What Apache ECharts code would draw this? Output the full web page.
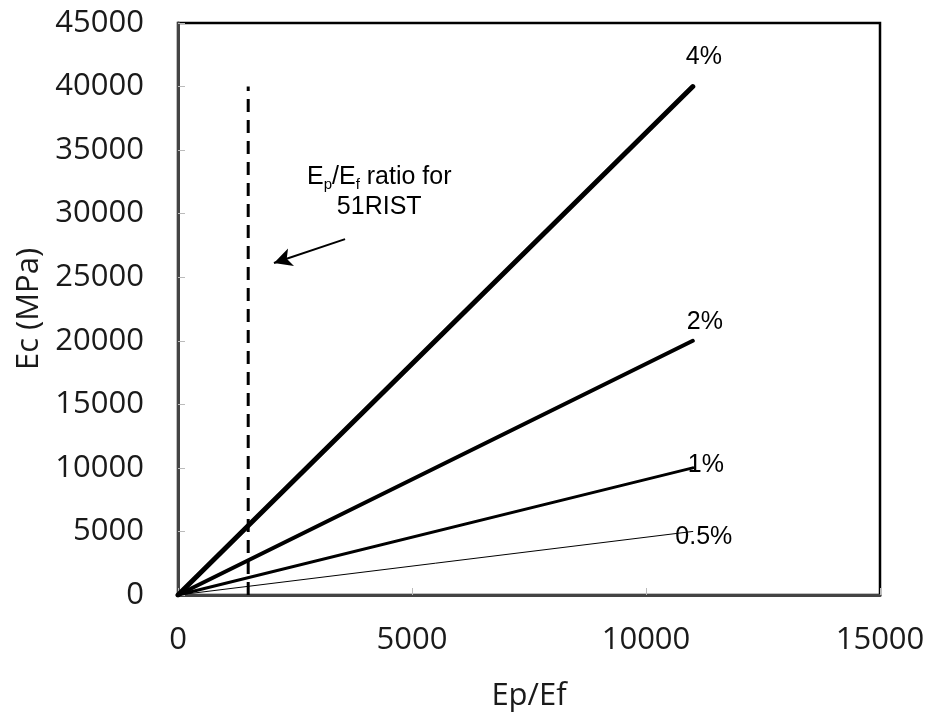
<!DOCTYPE html>
<html>
<head>
<meta charset="utf-8">
<script src="https://cdn.jsdelivr.net/npm/echarts@6/dist/echarts.min.js"></script>
<style>
  html, body { margin: 0; padding: 0; background: #fff; }
  #chart { width: 931px; height: 717px; }
</style>
</head>
<body>
<div id="chart"></div>
<script>
// Composite modulus Ec against the modulus ratio Ep/Ef for several fibre contents
const ratioX = [0, 11000];
const fibreLabels = ['4%', '2%', '1%', '0.5%'];
const ecValues = [
  [0, 40000],
  [0, 20000],
  [0, 10000],
  [0, 5000]
];
const lineWidths = [5, 4, 3, 1];
const labelOffsets = [[11, -29], [12, -19], [13, -3], [11, 6]];

// Ep/Ef ratio of 51RIST, shown as a dashed vertical marker
const ristRatio = 1500;
const ristEc = [0, 40000];

const xTicks = { min: 0, max: 15000, interval: 5000 };
const yTicks = { min: 0, max: 45000, interval: 5000 };

const axisFont = { fontFamily: 'Open Sans', fontSize: 31, color: '#1a1a1a' };
const labelFont = 'Liberation Sans';
const plainNumber = v => String(v);

const lineSeries = fibreLabels.map((name, i) => ({
  name: name,
  type: 'line',
  symbol: 'circle',
  symbolSize: 0,
  showSymbol: true,
  silent: true,
  z: 3,
  lineStyle: { color: '#000', width: lineWidths[i], cap: 'round' },
  itemStyle: { color: '#000' },
  data: ratioX.map((x, j) => {
    const item = { value: [x, ecValues[i][j]] };
    if (j === ratioX.length - 1) {
      item.label = {
        show: true,
        formatter: name,
        position: 'inside',
        offset: labelOffsets[i],
        fontFamily: labelFont,
        fontSize: 25,
        color: '#000'
      };
    }
    return item;
  })
}));

const ristSeries = {
  name: '51RIST',
  type: 'line',
  symbol: 'none',
  silent: true,
  z: 2,
  lineStyle: { color: '#000', width: 3, type: [13, 8] },
  data: ristEc.map(y => [ristRatio, y]),
  markLine: {
    silent: true,
    symbol: ['none', 'arrow'],
    symbolSize: [14, 18],
    label: { show: false },
    lineStyle: { color: '#000', width: 2, type: 'solid' },
    data: [[{ coord: [3570, 28000] }, { coord: [2050, 26120] }]]
  },
  markPoint: {
    silent: true,
    symbol: 'circle',
    symbolSize: 0,
    data: [{ coord: [4300, 31700] }],
    label: {
      show: true,
      position: 'inside',
      align: 'center',
      verticalAlign: 'middle',
      formatter: '{n|E}{s|p}{n|/E}{s|f}{n| ratio for}\n{n|51RIST}',
      rich: {
        n: { fontFamily: labelFont, fontSize: 25, color: '#000', lineHeight: 30, align: 'center' },
        s: { fontFamily: labelFont, fontSize: 15, color: '#000', lineHeight: 30, verticalAlign: 'bottom' }
      }
    }
  }
};

const chart = echarts.init(document.getElementById('chart'), null, { renderer: 'canvas' });
chart.setOption({
  animation: false,
  backgroundColor: '#fff',
  grid: {
    left: 178, right: 51, top: 23, bottom: 122,
    show: true, borderColor: '#000', borderWidth: 2.5, backgroundColor: 'transparent'
  },
  xAxis: {
    type: 'value',
    min: xTicks.min, max: xTicks.max, interval: xTicks.interval,
    name: 'Ep/Ef',
    nameLocation: 'middle',
    nameGap: 86,
    nameTextStyle: axisFont,
    axisLine: { show: true, onZero: false, lineStyle: { color: '#444', width: 3 } },
    axisTick: { show: true, inside: true, length: 7, lineStyle: { color: '#bbb', width: 1 } },
    axisLabel: Object.assign({ margin: 30, formatter: plainNumber }, axisFont),
    splitLine: { show: false }
  },
  yAxis: {
    type: 'value',
    min: yTicks.min, max: yTicks.max, interval: yTicks.interval,
    name: 'Ec (MPa)',
    nameLocation: 'middle',
    nameGap: 133,
    nameRotate: 90,
    nameTextStyle: axisFont,
    axisLine: { show: true, onZero: false, lineStyle: { color: '#444', width: 3 } },
    axisTick: { show: true, inside: true, length: 7, lineStyle: { color: '#bbb', width: 1 } },
    axisLabel: Object.assign({ margin: 34, formatter: plainNumber }, axisFont),
    splitLine: { show: false }
  },
  series: lineSeries.concat([ristSeries])
});
</script>
</body>
</html>
